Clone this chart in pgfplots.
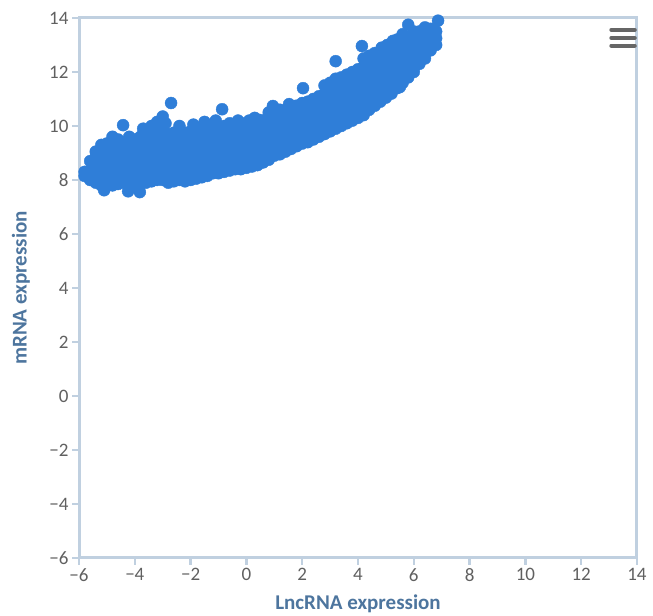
\documentclass[border=0pt]{standalone}
\usepackage{fontspec}
\setmainfont{Carlito}
\usepackage{pgfplots}
\pgfplotsset{compat=1.18}
\definecolor{axline}{HTML}{C0D0E0}
\definecolor{ptblue}{HTML}{2F7ED8}
\definecolor{ttl}{HTML}{4D759E}
\definecolor{tickgray}{HTML}{606060}
\definecolor{menugray}{HTML}{666666}
\begin{document}
\begin{tikzpicture}
\begin{axis}[
  scale only axis, width=558pt, height=540pt,
  xmin=-6, xmax=14, ymin=-6, ymax=14,
  xtick={-6,-4,...,14}, ytick={-6,-4,...,14},
  xticklabels={−6,−4,−2,0,2,4,6,8,10,12,14},
  yticklabels={−6,−4,−2,0,2,4,6,8,10,12,14},
  axis line style={axline, line width=3pt},
  tick style={axline, line width=2.5pt},
  tick align=outside, major tick length=7pt, tick pos=left,
  tick label style={font=\fontsize{19}{19}\selectfont, text=tickgray},
  label style={font=\bfseries\fontsize{21}{21}\selectfont, text=ttl},
  xlabel={LncRNA expression}, ylabel={mRNA expression},
  xlabel style={at={(axis description cs:0.5,-0.084)}, anchor=center},
  ylabel style={at={(axis description cs:-0.104,0.5)}, anchor=center, rotate=0},
  clip=false,
]
\addplot[only marks, mark=*, mark size=6pt, color=ptblue, fill=ptblue] coordinates {
(-5.8,8.3) (-5.8,8.15)
(-5.6,8.0) (-5.6,8.35) (-5.6,8.7)
(-5.4,7.9) (-5.4,8.2) (-5.4,8.5) (-5.4,8.85) (-5.4,9.05)
(-5.2,7.8) (-5.2,8.1) (-5.2,8.4) (-5.2,8.7) (-5.2,9.0) (-5.2,9.3)
(-5.1,7.62)
(-5.0,7.85) (-5.0,8.1) (-5.0,8.4) (-5.0,8.7) (-5.0,9.0) (-5.0,9.35)
(-4.8,7.8) (-4.8,8.1) (-4.8,8.4) (-4.8,8.7) (-4.8,9.0) (-4.8,9.3) (-4.8,9.6)
(-4.6,7.85) (-4.6,8.15) (-4.6,8.45) (-4.6,8.75) (-4.6,9.05) (-4.6,9.35) (-4.6,9.5)
(-4.4,7.9) (-4.4,8.2) (-4.4,8.5) (-4.4,8.8) (-4.4,9.1) (-4.4,9.4) (-4.42,10.03)
(-4.24,7.58)
(-4.2,7.85) (-4.2,8.15) (-4.2,8.45) (-4.2,8.75) (-4.2,9.05) (-4.2,9.35) (-4.2,9.6)
(-4.0,7.75) (-4.0,8.05) (-4.0,8.35) (-4.0,8.65) (-4.0,8.95) (-4.0,9.25) (-4.0,9.5)
(-3.82,7.55)
(-3.8,7.85) (-3.8,8.15) (-3.8,8.45) (-3.8,8.75) (-3.8,9.05) (-3.8,9.35) (-3.8,9.6)
(-3.7,9.9)
(-3.6,7.9) (-3.6,8.2) (-3.6,8.5) (-3.6,8.8) (-3.6,9.1) (-3.6,9.4) (-3.6,9.7)
(-3.4,7.95) (-3.4,8.25) (-3.4,8.55) (-3.4,8.85) (-3.4,9.15) (-3.4,9.45) (-3.4,9.75) (-3.4,10.0)
(-3.2,8.0) (-3.2,8.3) (-3.2,8.6) (-3.2,8.9) (-3.2,9.2) (-3.2,9.5) (-3.2,9.8) (-3.2,10.15)
(-3.0,8.0) (-3.0,8.3) (-3.0,8.6) (-3.0,8.9) (-3.0,9.2) (-3.0,9.5) (-3.0,9.85) (-3.0,10.35)
(-2.9,10.1)
(-2.8,7.9) (-2.8,8.2) (-2.8,8.5) (-2.8,8.8) (-2.8,9.1) (-2.8,9.4) (-2.8,9.7)
(-2.7,10.85)
(-2.6,7.95) (-2.6,8.25) (-2.6,8.55) (-2.6,8.85) (-2.6,9.15) (-2.6,9.45) (-2.6,9.75)
(-2.4,8.0) (-2.4,8.3) (-2.4,8.6) (-2.4,8.9) (-2.4,9.2) (-2.4,9.5) (-2.4,9.8) (-2.4,10.0)
(-2.2,7.95) (-2.2,8.25) (-2.2,8.55) (-2.2,8.85) (-2.2,9.15) (-2.2,9.45) (-2.2,9.75)
(-2.0,8.0) (-2.0,8.3) (-2.0,8.6) (-2.0,8.9) (-2.0,9.2) (-2.0,9.5) (-2.0,9.8)
(-1.9,10.05)
(-1.8,8.05) (-1.8,8.35) (-1.8,8.65) (-1.8,8.95) (-1.8,9.25) (-1.8,9.55) (-1.8,9.85)
(-1.6,8.1) (-1.6,8.4) (-1.6,8.7) (-1.6,9.0) (-1.6,9.3) (-1.6,9.6) (-1.6,9.95)
(-1.5,10.15)
(-1.4,8.15) (-1.4,8.45) (-1.4,8.75) (-1.4,9.05) (-1.4,9.35) (-1.4,9.65) (-1.4,9.9)
(-1.2,8.25) (-1.2,8.55) (-1.2,8.85) (-1.2,9.15) (-1.2,9.45) (-1.2,9.75) (-1.2,10.0)
(-1.1,10.2)
(-1.0,8.25) (-1.0,8.55) (-1.0,8.85) (-1.0,9.15) (-1.0,9.45) (-1.0,9.75) (-1.0,9.95)
(-0.87,10.62)
(-0.8,8.3) (-0.8,8.6) (-0.8,8.9) (-0.8,9.2) (-0.8,9.5) (-0.8,9.8) (-0.8,10.0)
(-0.6,8.35) (-0.6,8.65) (-0.6,8.95) (-0.6,9.25) (-0.6,9.55) (-0.6,9.85) (-0.6,10.1)
(-0.4,8.4) (-0.4,8.7) (-0.4,9.0) (-0.4,9.3) (-0.4,9.6) (-0.4,9.9)
(-0.3,10.2)
(-0.2,8.4) (-0.2,8.7) (-0.2,9.0) (-0.2,9.3) (-0.2,9.6) (-0.2,9.9) (-0.16,10.1)
(0.0,8.45) (0.0,8.75) (0.0,9.05) (0.0,9.35) (0.0,9.65) (0.0,9.95)
(0.1,10.2)
(0.2,8.5) (0.2,8.8) (0.2,9.1) (0.2,9.4) (0.2,9.7) (0.2,10.0)
(0.3,10.3)
(0.4,8.55) (0.4,8.85) (0.4,9.15) (0.4,9.45) (0.4,9.75) (0.4,10.05) (0.49,10.22)
(0.6,8.65) (0.6,8.95) (0.6,9.25) (0.6,9.55) (0.6,9.85) (0.6,10.15)
(0.8,8.75) (0.8,9.05) (0.8,9.35) (0.8,9.65) (0.8,9.95) (0.8,10.25) (0.8,10.5)
(0.95,10.74)
(1.0,8.9) (1.0,9.2) (1.0,9.5) (1.0,9.8) (1.0,10.1) (1.0,10.4)
(1.2,8.95) (1.2,9.25) (1.2,9.55) (1.2,9.85) (1.2,10.15) (1.2,10.45) (1.2,10.6)
(1.4,9.05) (1.4,9.35) (1.4,9.65) (1.4,9.95) (1.4,10.25) (1.4,10.55)
(1.53,10.81)
(1.6,9.15) (1.6,9.45) (1.6,9.75) (1.6,10.05) (1.6,10.35) (1.6,10.65)
(1.8,9.25) (1.8,9.55) (1.8,9.85) (1.8,10.15) (1.8,10.45) (1.8,10.75)
(2.0,9.35) (2.0,9.65) (2.0,9.95) (2.0,10.25) (2.0,10.55) (2.0,10.85) (2.03,11.4)
(2.2,9.4) (2.2,9.7) (2.2,10.0) (2.2,10.3) (2.2,10.6) (2.2,10.9)
(2.4,9.5) (2.4,9.8) (2.4,10.1) (2.4,10.4) (2.4,10.7) (2.4,11.0)
(2.6,9.6) (2.6,9.9) (2.6,10.2) (2.6,10.5) (2.6,10.8) (2.6,11.1)
(2.8,9.7) (2.8,10.0) (2.8,10.3) (2.8,10.6) (2.8,10.9) (2.8,11.2) (2.8,11.5)
(3.0,9.8) (3.0,10.1) (3.0,10.4) (3.0,10.7) (3.0,11.0) (3.0,11.3) (3.0,11.6)
(3.2,9.9) (3.2,10.2) (3.2,10.5) (3.2,10.8) (3.2,11.1) (3.2,11.4) (3.2,11.75) (3.2,12.4)
(3.4,10.0) (3.4,10.3) (3.4,10.6) (3.4,10.9) (3.4,11.2) (3.4,11.5) (3.4,11.8)
(3.6,10.1) (3.6,10.4) (3.6,10.7) (3.6,11.0) (3.6,11.3) (3.6,11.6) (3.6,11.9)
(3.8,10.2) (3.8,10.5) (3.8,10.8) (3.8,11.1) (3.8,11.4) (3.8,11.7) (3.8,12.0)
(4.0,10.3) (4.0,10.6) (4.0,10.9) (4.0,11.2) (4.0,11.5) (4.0,11.8) (4.0,12.1)
(4.14,12.96)
(4.2,10.4) (4.2,10.7) (4.2,11.0) (4.2,11.3) (4.2,11.6) (4.2,11.9) (4.2,12.2) (4.2,12.5)
(4.4,10.6) (4.4,10.9) (4.4,11.2) (4.4,11.5) (4.4,11.8) (4.4,12.1) (4.4,12.4) (4.4,12.6)
(4.6,10.75) (4.6,11.05) (4.6,11.35) (4.6,11.65) (4.6,11.95) (4.6,12.25) (4.6,12.55) (4.6,12.7)
(4.8,10.9) (4.8,11.2) (4.8,11.5) (4.8,11.8) (4.8,12.1) (4.8,12.4) (4.8,12.7) (4.85,12.9)
(5.0,11.05) (5.0,11.35) (5.0,11.65) (5.0,11.95) (5.0,12.25) (5.0,12.55) (5.0,12.85) (5.05,13.0)
(5.2,11.2) (5.2,11.5) (5.2,11.8) (5.2,12.1) (5.2,12.4) (5.2,12.7) (5.2,13.0) (5.25,13.15)
(5.4,11.4) (5.4,11.7) (5.4,12.0) (5.4,12.3) (5.4,12.6) (5.4,12.9) (5.4,13.2)
(5.5,11.44)
(5.6,11.6) (5.6,11.9) (5.6,12.2) (5.6,12.5) (5.6,12.8) (5.6,13.1) (5.6,13.4)
(5.8,11.8) (5.8,12.1) (5.8,12.4) (5.8,12.7) (5.8,13.0) (5.8,13.3) (5.8,13.75)
(6.0,12.0) (6.0,12.3) (6.0,12.6) (6.0,12.9) (6.0,13.2) (6.0,13.5)
(6.2,12.3) (6.2,12.6) (6.2,12.9) (6.2,13.2) (6.2,13.5)
(6.4,12.5) (6.4,12.8) (6.4,13.1) (6.4,13.4) (6.4,13.65)
(6.6,12.8) (6.6,13.1) (6.6,13.4) (6.6,13.6)
(6.8,13.0) (6.8,13.25) (6.8,13.5)
(6.87,13.9)
};
\draw[menugray, line width=4pt, line cap=round]
  (axis description cs:0.954,0.978) -- (axis description cs:0.996,0.978)
  (axis description cs:0.954,0.963) -- (axis description cs:0.996,0.963)
  (axis description cs:0.954,0.949) -- (axis description cs:0.996,0.949);
\coordinate (bbl) at (axis description cs:-0.1416,-0.1074);
\coordinate (btr) at (axis description cs:1.0287,1.0333);
\end{axis}
\useasboundingbox (bbl) rectangle (btr);
\end{tikzpicture}
\end{document}
